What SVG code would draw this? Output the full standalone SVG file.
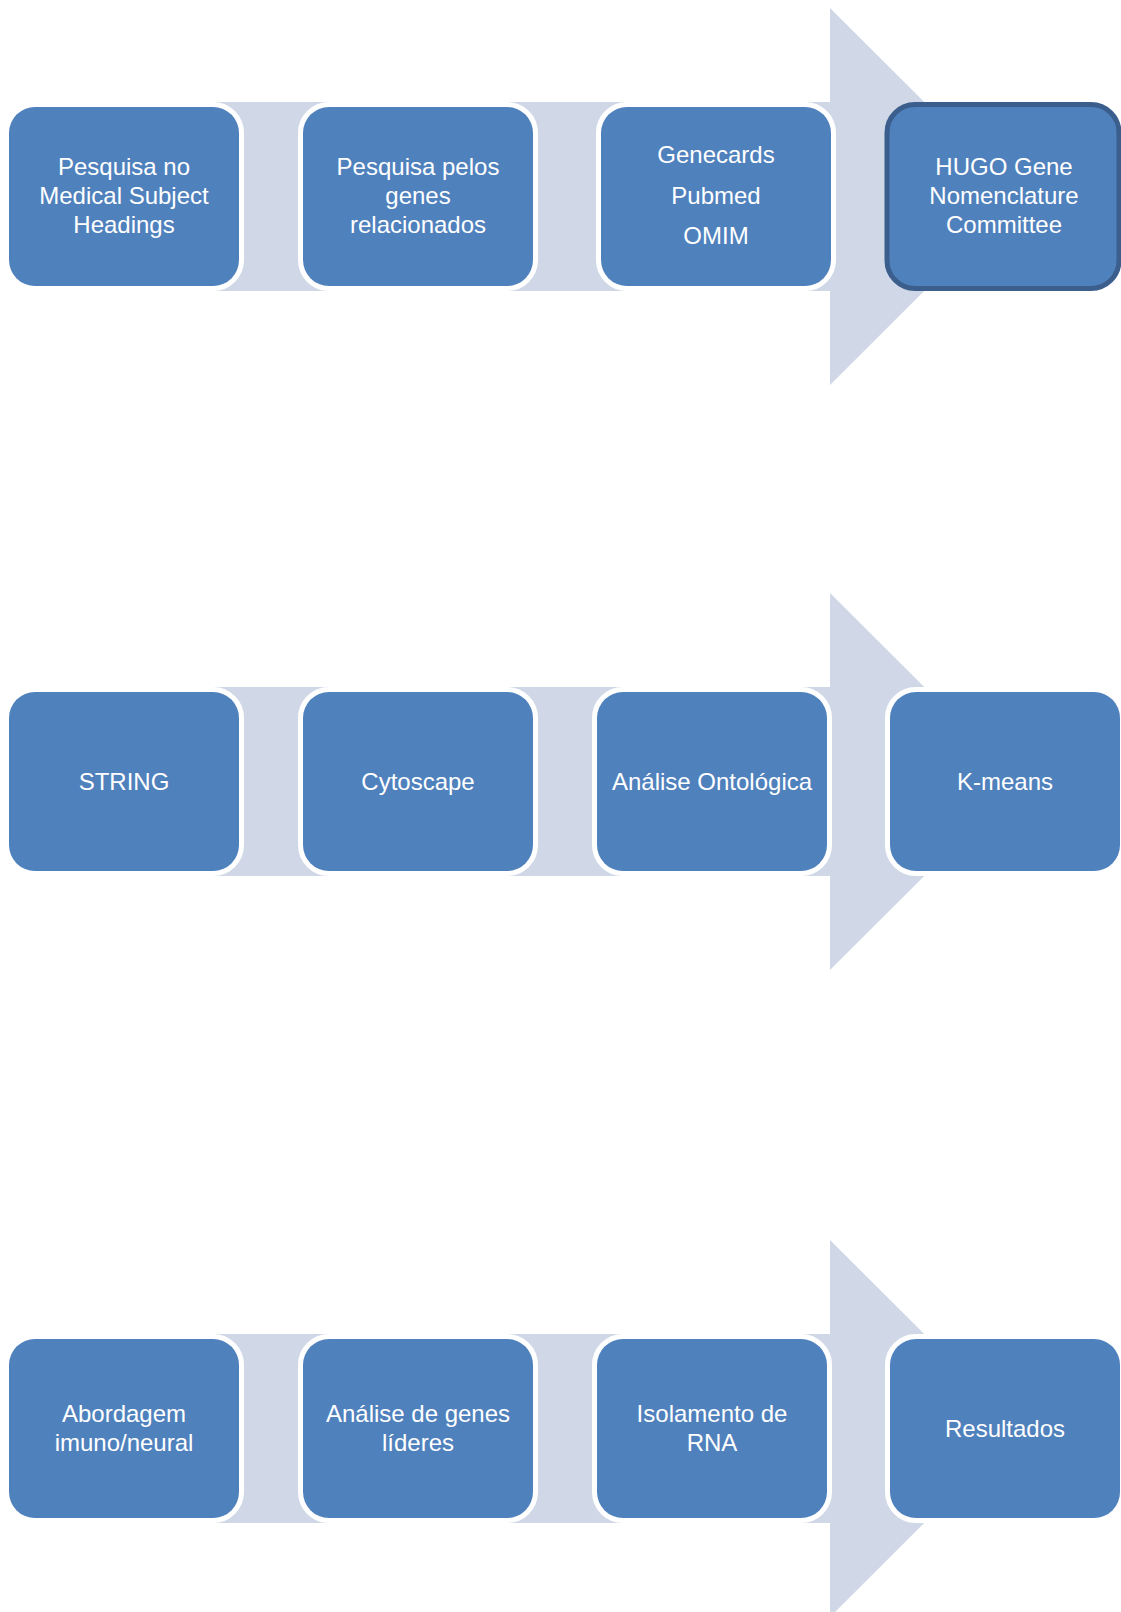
<svg xmlns="http://www.w3.org/2000/svg" width="1121" height="1612" viewBox="0 0 1121 1612">
<style>
.arrow{fill:#D0D8E8}
.box{fill:#4F81BD;stroke:#FFFFFF;stroke-width:10;paint-order:stroke}
.sel{fill:#4F81BD;stroke:#3B5E8C;stroke-width:5}
.t{font-family:"Liberation Sans",Arial,sans-serif;font-size:24px;fill:#FFFFFF;text-anchor:middle}
</style>
<rect width="1121" height="1612" fill="#FFFFFF"/>
<g id="connectors">
<polygon class="arrow" points="111,102 830,102 830,8 1019,196.5 830,385 830,291 111,291"/>
<polygon class="arrow" points="111,687 830,687 830,593 1019,781.5 830,970 830,876 111,876"/>
<polygon class="arrow" points="111,1334 830,1334 830,1240 1019,1428.5 830,1617 830,1523 111,1523"/>
</g>
<g id="n1"><rect class="box" x="9" y="107" width="230" height="179" rx="26"/>
<text class="t" x="124" y="175">Pesquisa no</text><text class="t" x="124" y="204">Medical Subject</text><text class="t" x="124" y="233">Headings</text></g>
<g id="n2"><rect class="box" x="303" y="107" width="230" height="179" rx="26"/>
<text class="t" x="418" y="175">Pesquisa pelos</text><text class="t" x="418" y="204">genes</text><text class="t" x="418" y="233">relacionados</text></g>
<g id="n3"><rect class="box" x="601" y="107" width="230" height="179" rx="26"/>
<text class="t" x="716" y="163">Genecards</text><text class="t" x="716" y="204">Pubmed</text><text class="t" x="716" y="244">OMIM</text></g>
<g id="n4"><rect class="sel" x="887" y="104.5" width="232" height="184" rx="28"/>
<text class="t" x="1004" y="175">HUGO Gene</text><text class="t" x="1004" y="204">Nomenclature</text><text class="t" x="1004" y="233">Committee</text></g>
<g id="n5"><rect class="box" x="9" y="692" width="230" height="179" rx="26"/>
<text class="t" x="124" y="790">STRING</text></g>
<g id="n6"><rect class="box" x="303" y="692" width="230" height="179" rx="26"/>
<text class="t" x="418" y="790">Cytoscape</text></g>
<g id="n7"><rect class="box" x="597" y="692" width="230" height="179" rx="26"/>
<text class="t" x="712" y="790">Análise Ontológica</text></g>
<g id="n8"><rect class="box" x="890" y="692" width="230" height="179" rx="26"/>
<text class="t" x="1005" y="790">K-means</text></g>
<g id="n9"><rect class="box" x="9" y="1339" width="230" height="179" rx="26"/>
<text class="t" x="124" y="1422">Abordagem</text><text class="t" x="124" y="1451">imuno/neural</text></g>
<g id="n10"><rect class="box" x="303" y="1339" width="230" height="179" rx="26"/>
<text class="t" x="418" y="1422">Análise de genes</text><text class="t" x="418" y="1451">líderes</text></g>
<g id="n11"><rect class="box" x="597" y="1339" width="230" height="179" rx="26"/>
<text class="t" x="712" y="1422">Isolamento de</text><text class="t" x="712" y="1451">RNA</text></g>
<g id="n12"><rect class="box" x="890" y="1339" width="230" height="179" rx="26"/>
<text class="t" x="1005" y="1437">Resultados</text></g>
</svg>
